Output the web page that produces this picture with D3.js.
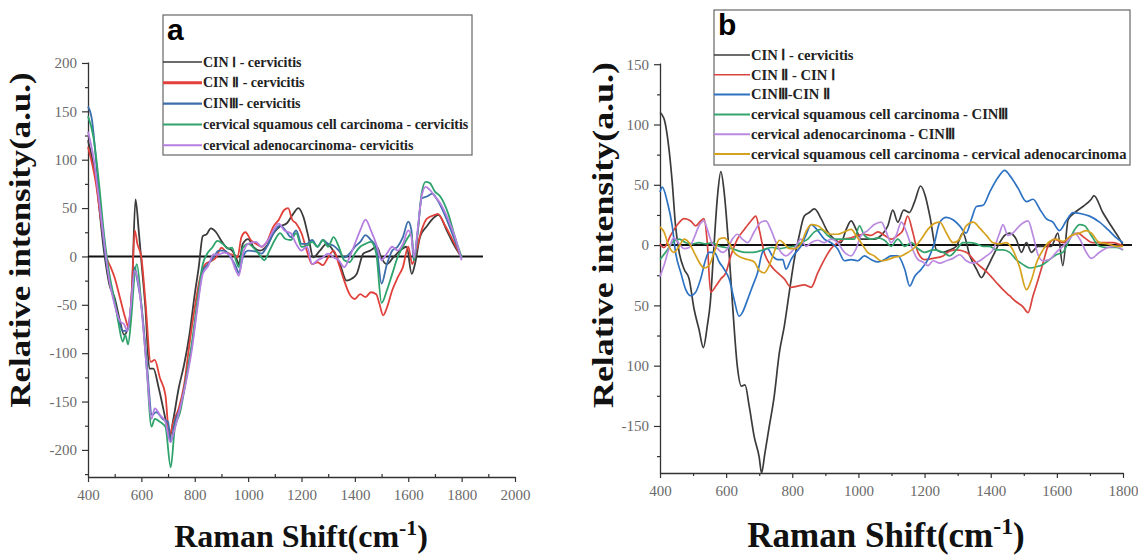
<!DOCTYPE html>
<html>
<head>
<meta charset="utf-8">
<script src="https://cdn.jsdelivr.net/npm/d3@7"></script>
<style>
body { margin: 0; background: #fff; }
.tick text { font-family: 'Liberation Serif', 'Times New Roman', serif; }
</style>
</head>
<body>
<svg id="chart" width="1138" height="555"></svg>
<script>
// ---- panel a : difference spectra vs cervicitis ----
var aNames = ["CIN \u2160 - cervicitis", "CIN \u2161 - cervicitis", "CIN\u2162- cervicitis",
  "cervical squamous cell carcinoma - cervicitis", "cervical adenocarcinoma- cervicitis"]
var aCin1 = [[400,120],[430,80],[460,5],[480,-29],[500,-43],[520,-67],[535,-81],[550,-74],[565,-32],[578,59],[590,27],[600,-5],[615,-53],[630,-116],[645,-116],[665,-136],[690,-168],[705,-188],[720,-168],[740,-136],[760,-112],[780,-81],[800,-39],[815,-11],[830,21],[845,23],[860,29],[880,25],[900,16],[920,9],[940,6],[955,-1],[965,-8],[980,13],[1000,18],[1020,10],[1045,6],[1070,11],[1095,24],[1119,31],[1144,34],[1169,44],[1188,50],[1207,41],[1226,20],[1244,-1],[1269,6],[1294,13],[1319,6],[1344,-8],[1369,-25],[1388,-23],[1407,-18],[1432,3],[1457,6],[1482,10],[1500,-2],[1519,-8],[1544,-1],[1569,6],[1594,10],[1613,-18],[1625,-8],[1644,20],[1669,31],[1700,41],[1713,43],[1744,27],[1769,13],[1800,-1]]
var aCin2 = [[400,113],[430,75],[450,34],[470,-1],[485,-11],[500,-22],[520,-43],[540,-64],[553,-74],[565,-32],[575,27],[585,13],[600,-1],[615,-46],[635,-109],[650,-107],[670,-126],[690,-143],[705,-185],[720,-171],[740,-157],[760,-133],[780,-91],[800,-53],[820,-22],[840,-8],[860,-5],[880,-1],[900,9],[920,4],[940,2],[960,-1],[975,20],[990,25],[1010,17],[1030,13],[1050,10],[1070,15],[1095,31],[1115,38],[1135,48],[1150,50],[1165,38],[1180,34],[1200,24],[1220,6],[1240,-8],[1260,-6],[1280,-9],[1300,-1],[1320,6],[1340,-8],[1360,-25],[1380,-39],[1400,-44],[1420,-39],[1440,-42],[1460,-37],[1480,-39],[1492,-49],[1506,-61],[1520,-53],[1540,-35],[1560,-22],[1580,-11],[1600,10],[1615,-8],[1630,6],[1650,27],[1670,39],[1700,43],[1710,44],[1740,31],[1770,15],[1800,-1]]
var aCin3 = [[400,155],[415,141],[430,100],[450,37],[470,-8],[490,-36],[510,-60],[530,-77],[545,-77],[560,-60],[575,-11],[585,-25],[600,-50],[620,-109],[640,-164],[655,-161],[680,-168],[700,-171],[710,-192],[725,-171],[745,-157],[770,-123],[790,-91],[810,-50],[830,-15],[850,-8],[870,-1],[890,6],[910,6],[930,1],[955,-11],[965,-17],[980,-1],[1000,6],[1030,5],[1050,3],[1070,10],[1095,24],[1120,32],[1140,27],[1160,20],[1180,27],[1200,13],[1220,13],[1240,17],[1260,10],[1280,17],[1300,13],[1320,11],[1340,6],[1360,-1],[1380,3],[1400,10],[1420,15],[1440,22],[1460,17],[1480,10],[1500,-28],[1520,-8],[1540,6],[1560,10],[1580,20],[1600,36],[1612,27],[1620,-4],[1635,24],[1650,60],[1670,62],[1690,65],[1710,58],[1740,41],[1770,20],[1800,-1]]
var aScc = [[400,145],[420,124],[440,79],[460,23],[480,-18],[500,-46],[515,-70],[530,-88],[540,-81],[550,-91],[562,-64],[575,-18],[583,-8],[600,-50],[620,-116],[638,-176],[650,-168],[670,-171],[690,-176],[710,-218],[725,-178],[745,-161],[770,-123],[790,-88],[810,-46],[830,-8],[845,2],[865,9],[885,16],[905,13],[925,8],[940,9],[955,-5],[965,-11],[980,9],[1000,13],[1030,6],[1050,-1],[1060,-4],[1080,6],[1100,17],[1120,24],[1140,18],[1160,17],[1180,24],[1200,10],[1220,11],[1240,15],[1260,10],[1280,17],[1300,10],[1320,20],[1340,10],[1360,-4],[1380,-6],[1400,3],[1420,10],[1440,13],[1460,15],[1480,3],[1500,-48],[1520,-35],[1540,-18],[1560,-1],[1580,10],[1600,20],[1612,24],[1622,-4],[1635,24],[1650,65],[1665,77],[1680,76],[1700,67],[1720,62],[1750,44],[1775,20],[1800,-1]]
var aAdeno = [[400,129],[420,103],[440,61],[460,16],[480,-25],[500,-50],[520,-67],[535,-70],[548,-77],[560,-53],[575,-15],[585,-22],[600,-53],[620,-116],[638,-168],[650,-157],[670,-164],[690,-171],[708,-192],[725,-178],[745,-157],[770,-126],[790,-95],[810,-53],[830,-18],[850,-10],[870,2],[890,2],[910,4],[930,2],[955,-15],[965,-20],[980,2],[1000,13],[1030,15],[1050,10],[1070,15],[1095,27],[1115,34],[1135,27],[1160,24],[1180,13],[1200,6],[1220,10],[1240,-8],[1260,-4],[1280,-1],[1300,3],[1320,-1],[1340,-4],[1360,-11],[1380,-1],[1400,13],[1420,27],[1440,38],[1460,27],[1480,13],[1500,-4],[1520,3],[1540,10],[1560,6],[1580,13],[1600,27],[1612,20],[1622,-1],[1635,27],[1650,62],[1665,72],[1680,69],[1700,62],[1720,55],[1750,38],[1775,20],[1800,-4]]
var aXTicks = [400, 600, 800, 1000, 1200, 1400, 1600, 1800, 2000]
var aYTicks = [-200, -150, -100, -50, 0, 50, 100, 150, 200]
var aYLabels = ["-200", "-150", "-100", "-50", "0", "50", "100", "150", "200"]

// ---- panel b : stepwise differences ----
var bNames = ["CIN \u2160 - cervicitis", "CIN \u2161 - CIN \u2160", "CIN\u2162-CIN \u2161",
  "cervical squamous cell carcinoma - CIN\u2162", "cervical adenocarcinoma - CIN\u2162",
  "cervical squamous cell carcinoma - cervical adenocarcinoma"]
var bCin1 = [[400,110],[412,105],[427,80],[437,52],[447,16],[458,-6],[473,-20],[488,-28],[503,-53],[518,-70],[531,-85],[543,-67],[552,-48],[562,-6],[574,41],[584,61],[594,44],[606,5],[619,-48],[634,-101],[646,-117],[657,-116],[670,-134],[685,-159],[700,-176],[707,-189],[717,-173],[730,-151],[745,-126],[761,-89],[776,-67],[791,-39],[806,-12],[821,8],[836,24],[851,27],[867,30],[887,22],[907,11],[927,5],[947,2],[963,13],[978,20],[993,13],[1008,5],[1028,5],[1048,5],[1069,8],[1089,16],[1104,29],[1119,19],[1137,29],[1154,27],[1170,36],[1188,49],[1202,41],[1216,24],[1236,-4],[1256,-6],[1276,-4],[1296,-1],[1316,10],[1337,-9],[1357,-20],[1372,-27],[1387,-20],[1407,-9],[1427,2],[1442,8],[1457,10],[1477,5],[1493,-6],[1508,2],[1523,-6],[1543,-1],[1563,-1],[1583,-1],[1603,10],[1618,-17],[1634,21],[1654,27],[1679,32],[1704,38],[1712,41],[1739,27],[1764,16],[1790,5],[1800,0]]
var bCin2 = [[400,1],[412,-2],[432,8],[453,17],[473,22],[493,20],[508,16],[523,20],[533,22],[543,2],[553,-39],[569,-34],[584,-28],[599,-23],[614,-9],[634,5],[655,13],[675,20],[690,24],[700,13],[715,-6],[735,-17],[756,-23],[776,-28],[796,-35],[816,-34],[836,-33],[857,-35],[877,-23],[897,-12],[917,-3],[937,2],[958,5],[978,6],[998,8],[1018,9],[1038,8],[1059,11],[1079,8],[1099,5],[1119,8],[1134,12],[1149,24],[1164,11],[1180,-6],[1200,-12],[1226,-11],[1256,-9],[1276,-5],[1296,-4],[1326,-6],[1357,-15],[1387,-22],[1417,-31],[1437,-37],[1457,-42],[1477,-47],[1497,-51],[1513,-56],[1528,-42],[1543,-29],[1558,-15],[1573,-1],[1593,5],[1618,2],[1644,8],[1664,10],[1684,6],[1709,2],[1739,2],[1770,2],[1800,-1]]
var bCin3 = [[400,44],[407,48],[422,36],[437,16],[447,-6],[463,-23],[478,-37],[493,-42],[508,-39],[523,-28],[538,-12],[548,-6],[564,-6],[579,-14],[594,-20],[609,-28],[624,-45],[639,-59],[649,-56],[665,-45],[680,-34],[695,-23],[710,-6],[725,-3],[740,-9],[756,-12],[771,-12],[781,-20],[796,-12],[811,-6],[826,-1],[841,8],[857,17],[877,12],[897,5],[917,2],[937,-3],[958,-13],[978,-12],[998,-13],[1018,-9],[1038,-12],[1059,-14],[1079,-12],[1099,-9],[1119,-9],[1140,-20],[1155,-34],[1170,-26],[1190,-20],[1210,-12],[1230,2],[1246,19],[1266,23],[1286,21],[1306,16],[1326,10],[1341,21],[1357,32],[1377,33],[1397,44],[1422,56],[1442,62],[1462,56],[1483,47],[1508,36],[1528,38],[1548,30],[1568,22],[1588,19],[1608,12],[1628,20],[1649,27],[1674,26],[1699,24],[1729,19],[1754,13],[1780,6],[1800,2]]
var bScc = [[400,-12],[417,-6],[437,2],[458,5],[478,2],[498,1],[518,2],[538,1],[558,2],[579,-1],[599,-2],[619,-3],[639,-5],[660,-6],[680,-6],[700,-5],[720,-3],[740,-2],[761,-3],[781,-2],[806,-1],[826,2],[847,5],[867,11],[887,13],[907,8],[927,5],[947,5],[968,5],[988,5],[1003,16],[1018,8],[1038,5],[1059,6],[1079,4],[1099,-1],[1119,5],[1140,-1],[1160,2],[1180,-3],[1200,-6],[1226,-4],[1256,-6],[1276,-9],[1296,-4],[1316,2],[1337,2],[1357,1],[1377,-1],[1397,-1],[1417,-4],[1437,-4],[1457,-6],[1477,-12],[1497,-16],[1518,-19],[1538,-18],[1558,-16],[1578,-12],[1598,-8],[1618,-6],[1639,5],[1654,13],[1669,17],[1684,16],[1704,8],[1729,-1],[1754,-2],[1780,-2],[1800,-4]]
var bAdeno = [[400,-26],[412,-17],[427,-3],[442,6],[458,1],[473,-3],[488,-2],[503,6],[518,16],[533,20],[543,13],[558,1],[574,-3],[589,-6],[604,-3],[619,5],[634,9],[649,5],[665,2],[685,11],[705,19],[720,20],[735,13],[751,2],[766,-6],[781,-9],[796,-6],[811,-1],[826,5],[841,-1],[857,2],[877,4],[897,2],[917,5],[937,2],[958,-6],[978,-9],[993,-3],[1008,8],[1028,12],[1048,17],[1069,19],[1084,11],[1099,2],[1114,8],[1130,19],[1145,11],[1160,-1],[1180,-12],[1195,-14],[1210,-17],[1226,-13],[1246,-15],[1266,-13],[1286,-11],[1306,-8],[1326,-13],[1347,-15],[1367,-13],[1387,-9],[1407,-4],[1427,10],[1437,17],[1452,8],[1467,10],[1487,16],[1513,20],[1528,8],[1543,-8],[1558,-13],[1578,-12],[1598,-6],[1618,-1],[1639,5],[1654,10],[1669,5],[1689,-6],[1704,-11],[1729,-6],[1754,-2],[1780,-1],[1800,-4]]
var bSccAdeno = [[400,15],[412,11],[427,-1],[442,-6],[458,-1],[473,5],[488,2],[503,-6],[518,-14],[533,-19],[548,-17],[564,-6],[579,5],[594,6],[609,2],[624,-6],[644,-10],[665,-12],[685,-14],[700,-21],[715,-23],[730,-17],[745,-6],[761,4],[776,1],[791,-3],[806,-3],[826,1],[841,11],[857,17],[877,16],[897,12],[917,9],[937,9],[958,11],[978,13],[993,8],[1008,2],[1028,-6],[1048,-9],[1069,-13],[1089,-12],[1109,-10],[1130,-9],[1150,-6],[1170,-2],[1190,5],[1210,13],[1230,18],[1246,19],[1266,10],[1286,2],[1306,5],[1326,16],[1347,19],[1367,14],[1387,8],[1407,2],[1427,1],[1447,2],[1467,-4],[1487,-18],[1508,-37],[1523,-29],[1538,-15],[1558,-4],[1578,3],[1598,5],[1618,3],[1644,8],[1669,10],[1689,12],[1704,10],[1729,2],[1754,1],[1780,-1],[1800,-1]]
var bXTicks = [400, 600, 800, 1000, 1200, 1400, 1600, 1800]
var bYTicks = [-150, -100, -50, 0, 50, 100, 150]
var bYLabels = ["-150", "100", "50", "0", "50", "100", "150"]   // as printed in the figure

var svg = d3.select("#chart")
var serif = "'Liberation Serif', 'Times New Roman', serif"

function drawPanel(p) {
	var x = d3.scaleLinear().domain(p.xDomain).range(p.xRange)
	var y = d3.scaleLinear().domain(p.yDomain).range(p.yRange)
	var g = svg.append("g")

	// minor ticks first
	var minorX = d3.range(p.xTicks[0] + 100, p.xTicks[p.xTicks.length - 1], 200)
	var minorY = d3.range(p.yTicks[0] - 25, p.yTicks[p.yTicks.length - 1], 50).filter(v => v >= p.yDomain[0])
	g.append("g").attr("transform", `translate(0,${p.yRange[0]})`)
		.call(d3.axisBottom(x).tickValues(minorX).tickSize(p.minorXIn ? -3 : 3).tickFormat(""))
		.call(s => s.select(".domain").remove())
	g.append("g").attr("transform", `translate(${p.xRange[0]},0)`)
		.call(d3.axisLeft(y).tickValues(minorY).tickSize(3).tickFormat(""))
		.call(s => s.select(".domain").remove())

	g.append("g").attr("transform", `translate(0,${p.yRange[0]})`)
		.attr("font-family", serif).attr("font-size", 15)
		.call(d3.axisBottom(x).tickValues(p.xTicks).tickSize(5).tickSizeOuter(0).tickPadding(7).tickFormat(d3.format("d")))
	g.append("g").attr("transform", `translate(${p.xRange[0]},0)`)
		.attr("font-family", serif).attr("font-size", 15)
		.call(d3.axisLeft(y).tickValues(p.yTicks).tickSize(6).tickSizeOuter(0).tickPadding(5)
			.tickFormat((d, i) => p.yLabels[i]))
	g.selectAll(".tick line").attr("stroke", "#333").attr("stroke-width", 1.2)
	g.selectAll(".domain").attr("stroke", "#333").attr("stroke-width", 1.3)
	g.selectAll(".tick text").style("font-family", serif).style("font-size", "15px").attr("fill", "#6a6a6a")

	// baseline at zero
	g.append("line")
		.attr("x1", p.xRange[0]).attr("x2", x(p.zeroEnd))
		.attr("y1", y(0)).attr("y2", y(0))
		.attr("stroke", "#111").attr("stroke-width", 2)

	var line = d3.line().x(d => x(d[0])).y(d => y(d[1])).curve(d3.curveMonotoneX)
	p.series.forEach(function(s, i) {
		g.append("path")
			.datum(s)
			.attr("d", line)
			.attr("fill", "none")
			.attr("stroke", p.colors[i])
			.attr("stroke-width", p.lineWidth)
			.attr("stroke-linejoin", "round")
	})

	// axis titles
	g.append("text")
		.attr("transform", `translate(${p.yTitleX},${p.yTitleY}) rotate(-90)`)
		.attr("text-anchor", "middle")
		.attr("textLength", p.yTitleLen).attr("lengthAdjust", "spacingAndGlyphs")
		.style("font-family", serif).style("font-weight", "bold").style("font-size", p.yTitleSize + "px")
		.attr("fill", "#111")
		.text("Relative intensity(a.u.)")
	var xt = g.append("text")
		.attr("x", p.xTitleX).attr("y", p.xTitleY)
		.attr("text-anchor", "middle")
		.style("font-family", serif).style("font-weight", "bold").style("font-size", p.xTitleSize + "px")
		.attr("fill", "#111")
	xt.append("tspan").text("Raman Shift(cm")
	xt.append("tspan").attr("dy", -p.xTitleSize * 0.38).style("font-size", (p.xTitleSize * 0.68) + "px").text("-1")
	xt.append("tspan").attr("dy", p.xTitleSize * 0.38).text(")")

	// legend box
	var L = p.legend
	var lg = svg.append("g")
	lg.append("rect")
		.attr("x", L.x).attr("y", L.y).attr("width", L.w).attr("height", L.h)
		.attr("fill", "#fff").attr("stroke", "#666").attr("stroke-width", 1.2)
	lg.append("text")
		.attr("x", L.x + 4).attr("y", L.y + 25)
		.style("font-family", "'Liberation Sans', Arial, sans-serif").style("font-weight", "bold").style("font-size", "30px")
		.attr("fill", "#000")
		.text(p.tag)
	p.names.forEach(function(n, i) {
		var yy = L.firstRow + i * L.rowGap
		lg.append("line")
			.attr("x1", L.x).attr("x2", L.x + L.sample)
			.attr("y1", yy).attr("y2", yy)
			.attr("stroke", p.colors[i]).attr("stroke-width", p.legendWidths[i])
		lg.append("text")
			.attr("x", L.x + L.sample + 1).attr("y", yy)
			.attr("dy", "0.33em")
			.style("font-family", serif).style("font-weight", "bold").style("font-size", L.font + "px")
			.attr("fill", "#222")
			.text(n)
	})
}

drawPanel({
	tag: "a",
	xDomain: [400, 2000], xRange: [88, 515],
	yDomain: [-228, 201], yRange: [477, 62],
	xTicks: aXTicks, yTicks: aYTicks, yLabels: aYLabels, minorXIn: true,
	zeroEnd: 1880,
	series: [aCin1, aCin2, aCin3, aScc, aAdeno],
	colors: ["#3b3b3b", "#e2403a", "#3c6eaa", "#2ea36c", "#b57ee0"],
	lineWidth: 1.8,
	names: aNames,
	legendWidths: [1.5, 3, 2.2, 2, 2],
	legend: { x: 163, y: 15, w: 309, h: 140, sample: 39, firstRow: 62, rowGap: 20.8, font: 14 },
	yTitleX: 30, yTitleY: 240, yTitleSize: 29, yTitleLen: 335,
	xTitleX: 301, xTitleY: 547, xTitleSize: 32
})

drawPanel({
	tag: "b",
	xDomain: [400, 1800], xRange: [660, 1123],
	yDomain: [-189, 151], yRange: [473, 63],
	xTicks: bXTicks, yTicks: bYTicks, yLabels: bYLabels, minorXIn: false,
	zeroEnd: 1827,
	series: [bCin1, bCin2, bCin3, bScc, bAdeno, bSccAdeno],
	colors: ["#3b3b3b", "#d9443e", "#2d72c2", "#33a46c", "#b98ae0", "#d6a21e"],
	lineWidth: 1.7,
	names: bNames,
	legendWidths: [1.5, 1.5, 2, 2, 2, 2],
	legend: { x: 714, y: 10, w: 416, h: 155, sample: 36, firstRow: 55, rowGap: 19.8, font: 14.6 },
	yTitleX: 613, yTitleY: 235, yTitleSize: 30, yTitleLen: 346,
	xTitleX: 886, xTitleY: 547, xTitleSize: 35
})
</script>
</body>
</html>
